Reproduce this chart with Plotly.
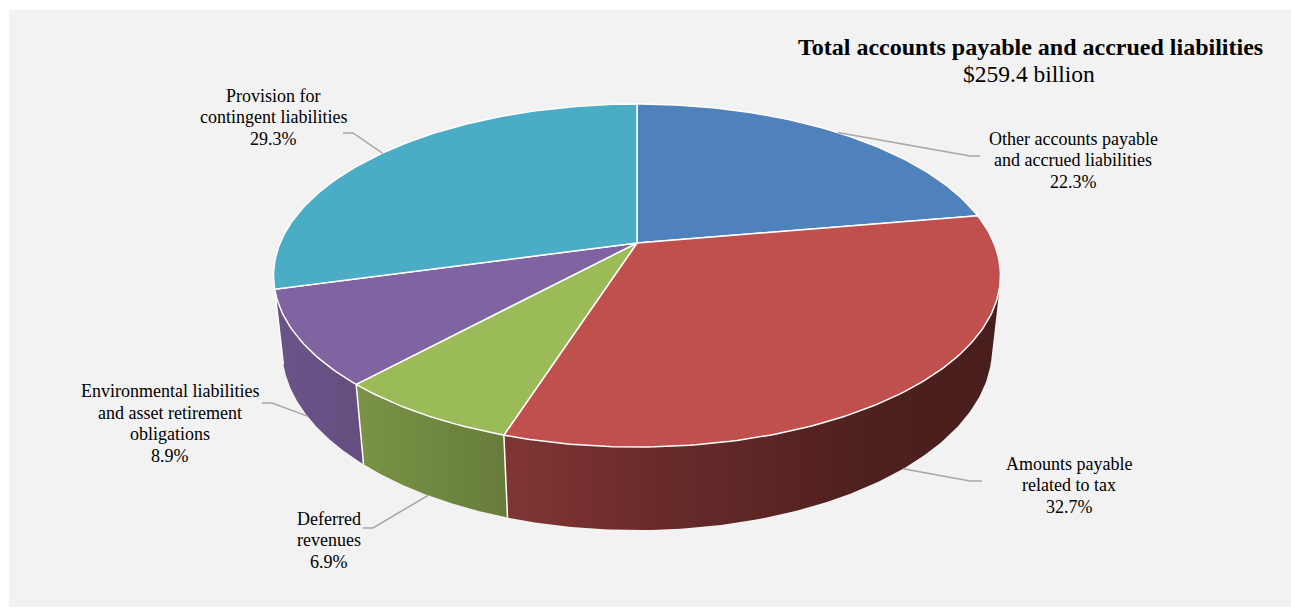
import numpy as np
import plotly.graph_objects as go

# ---- data -------------------------------------------------------------
categories = [
    "Other accounts payable and accrued liabilities",
    "Amounts payable related to tax",
    "Deferred revenues",
    "Environmental liabilities and asset retirement obligations",
    "Provision for contingent liabilities",
]
shares = [22.3, 32.7, 6.9, 8.9, 29.3]
label_names = [
    ["Other accounts payable", "and accrued liabilities"],
    ["Amounts payable", "related to tax"],
    ["Deferred", "revenues"],
    ["Environmental liabilities", "and asset retirement", "obligations"],
    ["Provision for", "contingent liabilities"],
]
title_lines = ["Total accounts payable and accrued liabilities", "$259.4 billion"]

# ---- styling ----------------------------------------------------------
top_colors = ["#4F81BD", "#C0504D", "#9BBB59", "#8064A2", "#4BACC6"]
FONT = "Liberation Serif, Times New Roman, serif"
W, H = 1291, 608

# label placement: centre x, first line y, and leader elbow/end points
label_pos = [
    (1073, 138.5, (970, 156), (980, 156)),
    (1069, 463.5, (970, 481), (982, 481)),
    (329, 518.5, (373, 528), (363, 528)),
    (170, 391.0, (272, 403), (262, 403)),
    (273, 95.5, (353, 133), (343, 133)),
]
LINE_STEP = 21.6

# ---- 3D pie projection ------------------------------------------------
CX, CY = 637.0, 243.0          # screen position of the pie centre
TILT = np.arcsin(0.4633)       # viewing elevation
RAD = 0.2139                   # radius relative to camera distance
THICK = 0.05                   # pie thickness
FOCAL = 1668.5


def project(alpha, z):
    """alpha: clockwise angle from the far point; z: 0 top, -THICK bottom."""
    alpha = np.asarray(alpha, dtype=float)
    X = RAD * np.sin(alpha)
    Y = RAD * np.cos(alpha)
    depth = 1.0 + Y * np.cos(TILT) - z * np.sin(TILT)
    sx = CX + FOCAL * X / depth
    sy = CY - FOCAL * (Y * np.sin(TILT) + z * np.cos(TILT)) / depth
    return sx, sy


def hex_rgb(h):
    h = h.lstrip("#")
    return np.array([int(h[i:i + 2], 16) for i in (0, 2, 4)], dtype=float)


def shade(base, x):
    f = np.interp(x, [275, 356, 505, 700, 880, 1000],
                  [0.84, 0.79, 0.67, 0.52, 0.40, 0.38])
    c = np.clip(hex_rgb(base) * f, 0, 255).astype(int)
    return f"rgb({c[0]},{c[1]},{c[2]})"


total = float(sum(shares))
bounds = np.concatenate([[0.0], np.cumsum(shares)]) / total * 2 * np.pi
vis_lo = np.arccos(-RAD / np.cos(TILT))
vis_hi = 2 * np.pi - vis_lo

fig = go.Figure()

# outer walls (front, visible part)
for i, col in enumerate(top_colors):
    lo = max(bounds[i], vis_lo)
    hi = min(bounds[i + 1], vis_hi)
    if hi <= lo:
        continue
    a = np.linspace(lo, hi, 120)
    tx, ty = project(a, 0.0)
    bx, by = project(a[::-1], -THICK)
    xs = np.concatenate([tx, bx, tx[:1]])
    ys = np.concatenate([ty, by, ty[:1]])
    x0, x1 = xs.min(), xs.max()
    stops = np.linspace(0, 1, 8)
    cscale = [[float(s), shade(col, x0 + s * (x1 - x0))] for s in stops]
    fig.add_trace(go.Scatter(
        x=xs, y=ys, mode="lines", fill="toself",
        line=dict(width=0, color="rgba(0,0,0,0)"),
        fillgradient=dict(type="horizontal", colorscale=cscale,
                          start=float(x0), stop=float(x1)),
        hoverinfo="skip", showlegend=False))

# white seams on the wall at slice boundaries
for b in bounds[1:-1]:
    if vis_lo < b < vis_hi:
        sx0, sy0 = project(b, 0.0)
        sx1, sy1 = project(b, -THICK)
        fig.add_trace(go.Scatter(
            x=[sx0, sx1], y=[sy0, sy1], mode="lines",
            line=dict(color="white", width=1.5),
            hoverinfo="skip", showlegend=False))

# top faces
for i, col in enumerate(top_colors):
    n = max(int((bounds[i + 1] - bounds[i]) / (2 * np.pi) * 400), 10)
    a = np.linspace(bounds[i], bounds[i + 1], n)
    ax_, ay_ = project(a, 0.0)
    xs = np.concatenate([[CX], ax_, [CX]])
    ys = np.concatenate([[CY], ay_, [CY]])
    fig.add_trace(go.Scatter(
        x=xs, y=ys, mode="lines", fill="toself", fillcolor=col,
        line=dict(color="white", width=1.5),
        name=categories[i], hoverinfo="skip", showlegend=False))

# leader lines and labels
annotations = []
front = lambda m: vis_lo < m < vis_hi
for i, (lx, ly, elbow, end) in enumerate(label_pos):
    mid = 0.5 * (bounds[i] + bounds[i + 1])
    z = -THICK if front(mid) else 0.0
    sx, sy = project(mid, z)
    fig.add_trace(go.Scatter(
        x=[float(sx), elbow[0], end[0]], y=[float(sy), elbow[1], end[1]],
        mode="lines", line=dict(color="#a6a6a6", width=1.5),
        hoverinfo="skip", showlegend=False))
    lines = label_names[i] + [f"{shares[i]:.1f}%"]
    for k, txt in enumerate(lines):
        annotations.append(dict(
            x=lx, y=ly + k * LINE_STEP, xref="x", yref="y", text=txt,
            showarrow=False, xanchor="center", yanchor="middle",
            font=dict(family=FONT, size=18, color="black")))

annotations.append(dict(
    x=1030, y=47, xref="x", yref="y", text=f"<b>{title_lines[0]}</b>",
    showarrow=False, xanchor="center", yanchor="middle",
    font=dict(family=FONT, size=24, color="black")))
annotations.append(dict(
    x=1029, y=74, xref="x", yref="y", text=title_lines[1],
    showarrow=False, xanchor="center", yanchor="middle",
    font=dict(family=FONT, size=23.5, color="black")))

fig.update_layout(
    width=W, height=H,
    margin=dict(l=0, r=0, t=0, b=0),
    paper_bgcolor="white", plot_bgcolor="rgba(0,0,0,0)",
    xaxis=dict(range=[0, W], visible=False, fixedrange=True),
    yaxis=dict(range=[H, 0], visible=False, fixedrange=True),
    shapes=[dict(type="rect", xref="paper", yref="paper",
                 x0=9 / W, x1=1.0, y0=1 - 607 / H, y1=1 - 10 / H,
                 fillcolor="#f2f2f2", line=dict(width=0), layer="below")],
    annotations=annotations,
    showlegend=False,
    hovermode=False,
)

fig.write_html("out.html")
